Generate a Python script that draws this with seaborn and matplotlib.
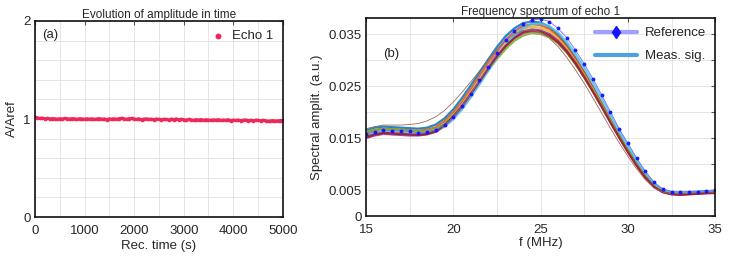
import numpy as np
import matplotlib
matplotlib.use("Agg")
import matplotlib.pyplot as plt
from matplotlib.lines import Line2D
from matplotlib.ticker import MultipleLocator
import seaborn as sns

# Panel (a): normalised amplitude of echo 1 vs recording time
rec_time = np.arange(0, 5001, 50)
echo1 = [1.021, 1.012, 1.006, 1.009, 1.003, 1.007, 1.001, 1.005, 1.002, 0.998, 1.004,
         1.000, 1.006, 1.003, 0.999, 1.005, 1.002, 0.997, 1.004, 1.001, 0.998,
         1.003, 0.999, 1.002, 0.996, 1.001, 1.004, 0.998, 1.000, 0.995, 1.002,
         0.999, 1.003, 0.997, 1.005, 1.008, 1.002, 0.998, 1.004, 1.006, 1.000,
         0.997, 1.001, 0.995, 0.999, 1.002, 0.996, 0.998, 0.994, 1.000, 0.997,
         0.993, 0.998, 0.996, 0.992, 0.999, 0.995, 1.001, 0.994, 0.997, 0.993,
         0.990, 0.996, 0.992, 0.988, 0.994, 0.991, 0.995, 0.989, 0.993, 0.990,
         0.987, 0.992, 0.989, 0.994, 0.986, 0.990, 0.988, 0.993, 0.985, 0.989,
         0.986, 0.990, 0.984, 0.988, 0.991, 0.985, 0.987, 0.983, 0.989, 0.986,
         0.982, 0.987, 0.984, 0.976, 0.981, 0.985, 0.979, 0.983, 0.980, 0.978]

# Panel (b): spectra (MHz, a.u.)
freq = np.arange(15, 35.01, 0.5)
reference = [0.0157, 0.0162, 0.0165, 0.0164, 0.0164, 0.0163, 0.0160, 0.0162, 0.0166, 0.0175,
             0.0190, 0.0211, 0.0235, 0.0261, 0.0287, 0.0314, 0.0338, 0.0356, 0.0369, 0.0377,
             0.0379, 0.0374, 0.0361, 0.0343, 0.0319, 0.0293, 0.0264, 0.0233, 0.0201, 0.0168,
             0.0140, 0.0112, 0.0086, 0.0065, 0.0052, 0.0047, 0.0046, 0.0047, 0.0047, 0.0049, 0.0050]
meas = {
    "m1": [0.0165, 0.0170, 0.0172, 0.0171, 0.0170, 0.0169, 0.0168, 0.0170, 0.0176, 0.0188,
           0.0205, 0.0227, 0.0251, 0.0276, 0.0301, 0.0325, 0.0346, 0.0361, 0.0371, 0.0374,
           0.0372, 0.0364, 0.0349, 0.0329, 0.0304, 0.0277, 0.0248, 0.0217, 0.0186, 0.0156,
           0.0128, 0.0102, 0.0078, 0.0060, 0.0050, 0.0046, 0.0045, 0.0046, 0.0047, 0.0048, 0.0048],
    "m2": [0.0160, 0.0165, 0.0168, 0.0167, 0.0166, 0.0165, 0.0164, 0.0166, 0.0171, 0.0183,
           0.0199, 0.0220, 0.0244, 0.0269, 0.0294, 0.0318, 0.0339, 0.0355, 0.0365, 0.0369,
           0.0367, 0.0360, 0.0346, 0.0326, 0.0302, 0.0275, 0.0246, 0.0216, 0.0185, 0.0155,
           0.0127, 0.0101, 0.0077, 0.0058, 0.0048, 0.0044, 0.0043, 0.0044, 0.0045, 0.0046, 0.0046],
    "m3": [0.0154, 0.0159, 0.0162, 0.0161, 0.0160, 0.0159, 0.0158, 0.0160, 0.0165, 0.0177,
           0.0193, 0.0214, 0.0238, 0.0263, 0.0288, 0.0312, 0.0333, 0.0349, 0.0360, 0.0364,
           0.0362, 0.0355, 0.0341, 0.0322, 0.0298, 0.0271, 0.0243, 0.0213, 0.0183, 0.0153,
           0.0125, 0.0099, 0.0075, 0.0057, 0.0047, 0.0043, 0.0042, 0.0043, 0.0044, 0.0045, 0.0045],
    "m4": [0.0150, 0.0155, 0.0158, 0.0157, 0.0156, 0.0155, 0.0155, 0.0157, 0.0162, 0.0173,
           0.0189, 0.0209, 0.0233, 0.0257, 0.0282, 0.0306, 0.0327, 0.0344, 0.0355, 0.0359,
           0.0357, 0.0350, 0.0337, 0.0318, 0.0295, 0.0268, 0.0240, 0.0211, 0.0181, 0.0152,
           0.0124, 0.0098, 0.0074, 0.0056, 0.0046, 0.0042, 0.0041, 0.0042, 0.0043, 0.0044, 0.0044],
    "m5": [0.0162, 0.0166, 0.0168, 0.0167, 0.0166, 0.0164, 0.0163, 0.0164, 0.0168, 0.0178,
           0.0193, 0.0212, 0.0234, 0.0257, 0.0280, 0.0302, 0.0321, 0.0337, 0.0347, 0.0352,
           0.0350, 0.0344, 0.0332, 0.0314, 0.0292, 0.0267, 0.0240, 0.0212, 0.0183, 0.0154,
           0.0127, 0.0101, 0.0077, 0.0059, 0.0049, 0.0045, 0.0044, 0.0045, 0.0046, 0.0047, 0.0047],
    "m6": [0.0156, 0.0160, 0.0163, 0.0163, 0.0162, 0.0161, 0.0159, 0.0160, 0.0164, 0.0172,
           0.0186, 0.0205, 0.0228, 0.0253, 0.0279, 0.0305, 0.0328, 0.0347, 0.0361, 0.0369,
           0.0370, 0.0365, 0.0353, 0.0335, 0.0312, 0.0286, 0.0257, 0.0227, 0.0195, 0.0164,
           0.0135, 0.0108, 0.0083, 0.0063, 0.0051, 0.0046, 0.0045, 0.0046, 0.0046, 0.0048, 0.0049],
    "m8": [0.0152, 0.0157, 0.0160, 0.0159, 0.0158, 0.0157, 0.0156, 0.0158, 0.0163, 0.0175,
           0.0191, 0.0211, 0.0235, 0.0259, 0.0284, 0.0307, 0.0327, 0.0342, 0.0352, 0.0356,
           0.0354, 0.0347, 0.0334, 0.0316, 0.0293, 0.0267, 0.0239, 0.0210, 0.0180, 0.0151,
           0.0123, 0.0097, 0.0074, 0.0056, 0.0046, 0.0042, 0.0041, 0.0042, 0.0043, 0.0044, 0.0045],
}
# one outlying trace that rises early
outlier = [0.0168, 0.0172, 0.0175, 0.0175, 0.0175, 0.0176, 0.0178, 0.0183, 0.0191, 0.0203,
           0.0219, 0.0238, 0.0258, 0.0279, 0.0300, 0.0320, 0.0337, 0.0350, 0.0357, 0.0358,
           0.0353, 0.0342, 0.0326, 0.0305, 0.0281, 0.0255, 0.0227, 0.0198, 0.0169, 0.0141,
           0.0115, 0.0091, 0.0070, 0.0054, 0.0046, 0.0043, 0.0043, 0.0044, 0.0045, 0.0046, 0.0046]
meas_colors = ["#0072BD", "#D95319", "#EDB120", "#7E2F8E", "#77AC30", "#4DBEEE", "#A2142F"]

sns.set_style("white")
plt.rcParams['font.family'] = ['Liberation Sans', 'DejaVu Sans']
plt.rcParams['font.size'] = 9.5

fig = plt.figure(figsize=(7.29, 2.56), dpi=100)
ax1 = fig.add_axes([0.048, 0.152, 0.340, 0.766])
ax2 = fig.add_axes([0.502, 0.156, 0.479, 0.774])

# (a)
sns.lineplot(x=rec_time, y=echo1, ax=ax1, color="#F0285A", linewidth=2.2, legend=False)
sns.scatterplot(x=rec_time, y=echo1, ax=ax1, color="#F0285A", s=7, linewidth=0, label="Echo 1")
ax1.set_xlim(0, 5000)
ax1.set_ylim(0, 2)
ax1.set_xticks([0, 1000, 2000, 3000, 4000, 5000])
ax1.set_yticks([0, 1, 2])
ax1.xaxis.set_minor_locator(MultipleLocator(500))
ax1.yaxis.set_minor_locator(MultipleLocator(0.2))
ax1.grid(True, which="both", color="#e0e0e0", linewidth=0.6)
ax1.set_title("Evolution of amplitude in time", fontsize=8.5, pad=2)
ax1.set_xlabel("Rec. time (s)", fontsize=9.5, labelpad=2)
ax1.set_ylabel("A/Aref", fontsize=9.5, labelpad=4)
ax1.text(0.03, 0.96, "(a)", transform=ax1.transAxes, ha="left", va="top", fontsize=9.5)
ax1.legend(loc="upper right", frameon=False, fontsize=9.5, handletextpad=0.1,
           markerscale=1.6, borderaxespad=0.3)

# (b)
for (name, vals), c in zip(meas.items(), meas_colors):
    sns.lineplot(x=freq, y=vals, ax=ax2, color=c, linewidth=1.6, alpha=0.85, legend=False)
sns.lineplot(x=freq, y=outlier, ax=ax2, color="#9a6a5a", linewidth=0.6, legend=False)
sns.lineplot(x=freq, y=reference, ax=ax2, color="#7070ff", linewidth=0.6,
             marker="o", markersize=2, markerfacecolor="#1515ff", markeredgecolor="#1515ff",
             legend=False)
ax2.set_xlim(15, 35)
ax2.set_ylim(0, 0.0381)
ax2.set_xticks([15, 20, 25, 30, 35])
ax2.xaxis.set_minor_locator(MultipleLocator(2.5))
yt = [0, 0.005, 0.01, 0.015, 0.02, 0.025, 0.03, 0.035]
ax2.set_yticks(yt)
ax2.set_yticklabels(["0", "0.005", "", "0.015", "", "0.025", "", "0.035"])
ax2.grid(True, which="both", color="#e0e0e0", linewidth=0.6)
ax2.set_title("Frequency spectrum of echo 1", fontsize=8.5, pad=2)
ax2.set_xlabel("f (MHz)", fontsize=9.5, labelpad=1)
ax2.set_ylabel("Spectral amplit. (a.u.)", fontsize=9.5, labelpad=4)
ax2.text(0.05, 0.85, "(b)", transform=ax2.transAxes, ha="left", va="top", fontsize=9.5)
handles = [
    Line2D([], [], color="#a0a0ff", linewidth=3, marker="d", markersize=6,
           markerfacecolor="#1515ff", markeredgecolor="#1515ff"),
    Line2D([], [], color="#4fa3dd", linewidth=3),
]
ax2.legend(handles, ["Reference", "Meas. sig."], loc="upper right", frameon=False,
           fontsize=9.5, handlelength=3.2, handletextpad=0.6, labelspacing=0.8,
           borderaxespad=0.3)

for ax in (ax1, ax2):
    for sp in ax.spines.values():
        sp.set_color("#111111")
        sp.set_linewidth(1.2)
    ax.tick_params(which="major", direction="in", length=3, top=True, right=True,
                   labelsize=9.5, color="#555555")
    ax.tick_params(axis="x", which="major", pad=5.5)
    ax.tick_params(axis="y", which="major", pad=3)
    ax.tick_params(which="minor", direction="in", length=0)

fig.savefig("out.png", dpi=100)
